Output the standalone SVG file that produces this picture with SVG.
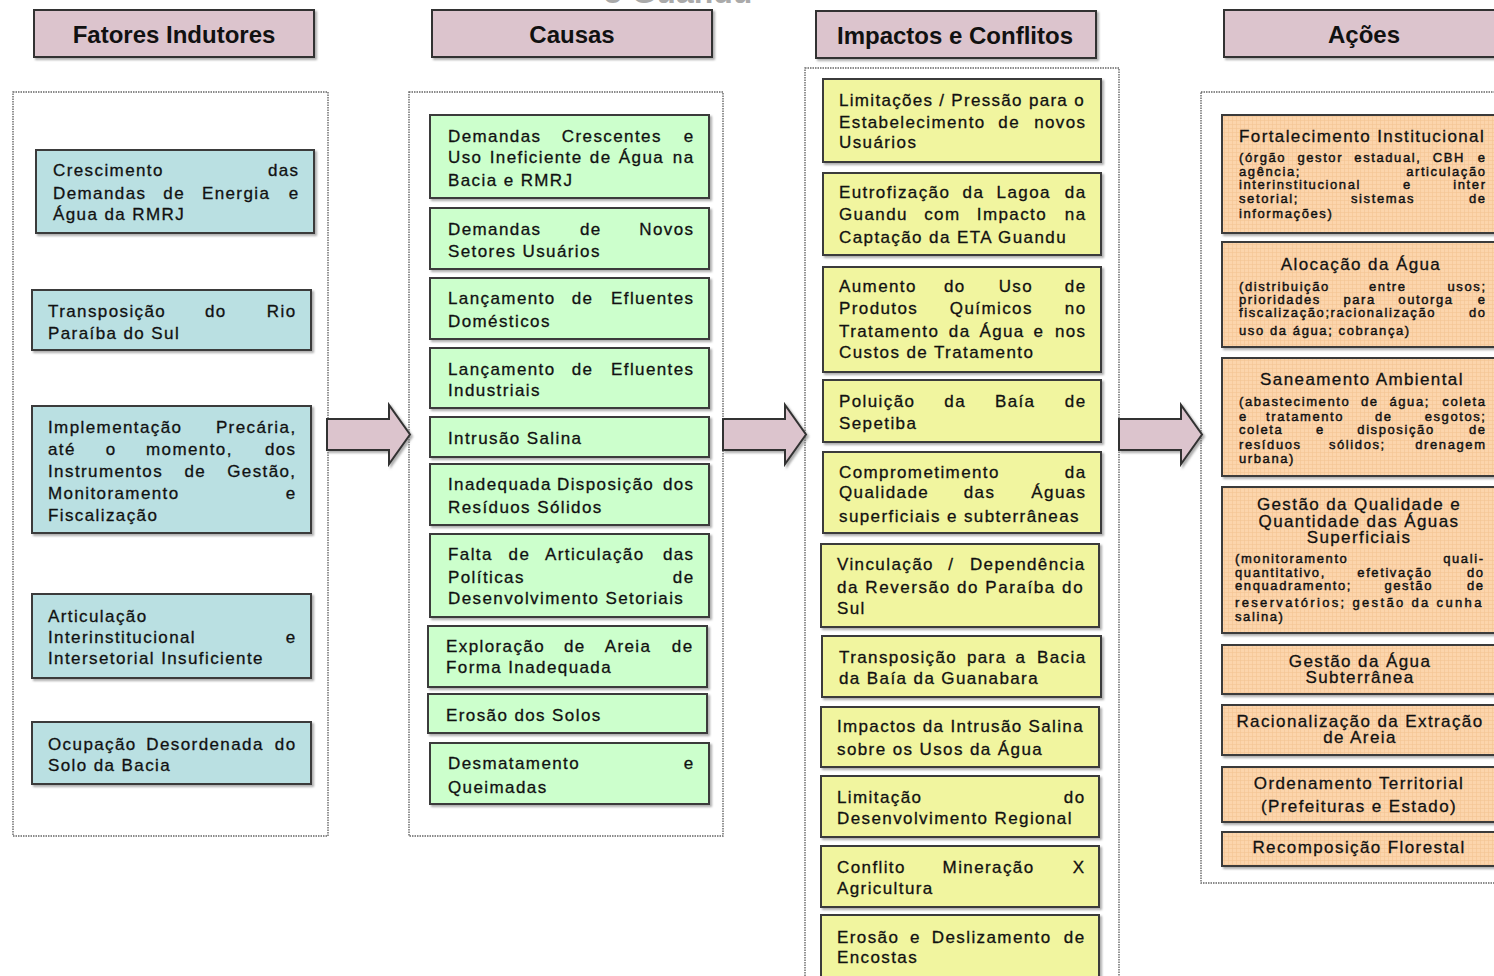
<svg xmlns="http://www.w3.org/2000/svg" width="1494" height="976" viewBox="0 0 1494 976">
<defs>
<filter id="sh" x="-5%" y="-5%" width="115%" height="125%">
<feDropShadow dx="2" dy="2" stdDeviation="0.8" flood-color="#777" flood-opacity="0.6"/>
</filter>
<pattern id="grid" width="4" height="4" patternUnits="userSpaceOnUse">
<rect width="4" height="4" fill="#fcd5ac"/>
<path d="M0 0.5H4M0.5 0V4" stroke="#f3c594" stroke-width="0.6"/>
</pattern>
<style>
.hd{fill:#dcc4cd;stroke:#333;stroke-width:2;filter:url(#sh)}
.bx{stroke:#3a3a3a;stroke-width:2;filter:url(#sh)}
.bl{fill:#bae0e2}
.gr{fill:#ccffcc}
.ye{fill:#f1f59f}
.or{fill:url(#grid)}
.ct{fill:none;stroke:#666;stroke-width:1.4;stroke-dasharray:1.5 1}
.ar{fill:#dcc4cd;stroke:#333;stroke-width:2;stroke-linejoin:miter;filter:url(#sh)}
text.t{font-family:"Liberation Sans",Arial,sans-serif;font-size:17px;letter-spacing:1.4px;fill:#111;stroke:#111;stroke-width:0.3}
text.s{font-size:13px;letter-spacing:1.6px;stroke-width:0.45}
text.e{text-anchor:end}
text.m{text-anchor:middle}
text.h{font-family:"Liberation Sans",Arial,sans-serif;font-size:24px;font-weight:bold;text-anchor:middle;fill:#111}
</style>
</defs>
<rect width="1494" height="976" fill="#fff"/>
<text x="603" y="3" font-family="Liberation Sans, Arial, sans-serif" font-size="32" font-weight="bold" fill="#aaa">o Guandu</text>

<g id="headers">
<g id="h-fatores"><rect class="hd" x="34" y="10" width="280" height="47"/><text class="h" x="174" y="43">Fatores Indutores</text></g>
<g id="h-causas"><rect class="hd" x="432" y="10" width="280" height="47"/><text class="h" x="572" y="43">Causas</text></g>
<g id="h-impactos"><rect class="hd" x="816" y="11" width="280" height="47"/><text class="h" x="955" y="44">Impactos e Conflitos</text></g>
<g id="h-acoes"><rect class="hd" x="1224" y="10" width="290" height="47"/><text class="h" x="1364" y="43">Ações</text></g>
</g>

<g id="containers">
<rect class="ct" x="13" y="92" width="315" height="744"/>
<rect class="ct" x="409" y="92" width="314" height="744"/>
<rect class="ct" x="805" y="68" width="314" height="930"/>
<rect class="ct" x="1201" y="92" width="320" height="791"/>
</g>

<g id="connectors">
<polygon class="ar" points="327,419 389,419 389,405 410,434.5 389,464 389,450 327,450"/>
<polygon class="ar" points="723,419 785,419 785,405 806,434.5 785,464 785,450 723,450"/>
<polygon class="ar" points="1119,419 1181,419 1181,405 1202,434.5 1181,464 1181,450 1119,450"/>
</g>

<!-- Column 1 -->
<g id="f1"><rect class="bx bl" x="36" y="150" width="278" height="83"/>
<text class="t" x="53" y="176">Crescimento</text><text class="t e" x="299.5" y="176">das</text>
<text class="t" x="53" y="199">Demandas</text><text class="t" x="163.3" y="199">de</text><text class="t" x="201.9" y="199">Energia</text><text class="t e" x="299.5" y="199">e</text>
<text class="t" x="53" y="220">Água da RMRJ</text></g>

<g id="f2"><rect class="bx bl" x="32" y="290" width="279" height="60"/>
<text class="t" x="48" y="317">Transposição</text><text class="t" x="205" y="317">do</text><text class="t e" x="296.5" y="317">Rio</text>
<text class="t" x="48" y="339">Paraíba do Sul</text></g>

<g id="f3"><rect class="bx bl" x="32" y="406" width="279" height="127"/>
<text class="t" x="48" y="433">Implementação</text><text class="t e" x="296.5" y="433">Precária,</text>
<text class="t" x="48" y="455">até</text><text class="t" x="105.8" y="455">o</text><text class="t" x="146" y="455">momento,</text><text class="t e" x="296.5" y="455">dos</text>
<text class="t" x="48" y="477">Instrumentos</text><text class="t" x="184.5" y="477">de</text><text class="t e" x="296.5" y="477">Gestão,</text>
<text class="t" x="48" y="499">Monitoramento</text><text class="t e" x="296.5" y="499">e</text>
<text class="t" x="48" y="521">Fiscalização</text></g>

<g id="f4"><rect class="bx bl" x="32" y="594" width="279" height="84"/>
<text class="t" x="48" y="622">Articulação</text>
<text class="t" x="48" y="643">Interinstitucional</text><text class="t e" x="296.5" y="643">e</text>
<text class="t" x="48" y="664">Intersetorial Insuficiente</text></g>

<g id="f5"><rect class="bx bl" x="32" y="722" width="279" height="62"/>
<text class="t" x="48" y="750">Ocupação</text><text class="t" x="146.3" y="750">Desordenada</text><text class="t e" x="296.5" y="750">do</text>
<text class="t" x="48" y="771">Solo da Bacia</text></g>

<!-- Column 2 -->
<g id="c1"><rect class="bx gr" x="430" y="115" width="279" height="83"/>
<text class="t" x="448" y="142">Demandas</text><text class="t" x="561.8" y="142">Crescentes</text><text class="t e" x="694.5" y="142">e</text>
<text class="t" x="448" y="163">Uso</text><text class="t" x="489.7" y="163">Ineficiente</text><text class="t" x="589.8" y="163">de</text><text class="t" x="618.8" y="163">Água</text><text class="t e" x="694.5" y="163">na</text>
<text class="t" x="448" y="186">Bacia e RMRJ</text></g>

<g id="c2"><rect class="bx gr" x="430" y="208" width="279" height="61"/>
<text class="t" x="448" y="235">Demandas</text><text class="t" x="580" y="235">de</text><text class="t e" x="694.5" y="235">Novos</text>
<text class="t" x="448" y="257">Setores Usuários</text></g>

<g id="c3"><rect class="bx gr" x="430" y="278" width="279" height="61"/>
<text class="t" x="448" y="304">Lançamento</text><text class="t" x="571.7" y="304">de</text><text class="t e" x="694.5" y="304">Efluentes</text>
<text class="t" x="448" y="327">Domésticos</text></g>

<g id="c4"><rect class="bx gr" x="430" y="348" width="279" height="60"/>
<text class="t" x="448" y="375">Lançamento</text><text class="t" x="571.7" y="375">de</text><text class="t e" x="694.5" y="375">Efluentes</text>
<text class="t" x="448" y="396">Industriais</text></g>

<g id="c5"><rect class="bx gr" x="430" y="417" width="279" height="40"/>
<text class="t" x="448" y="444">Intrusão Salina</text></g>

<g id="c6"><rect class="bx gr" x="430" y="464" width="279" height="61"/>
<text class="t" x="448" y="490">Inadequada</text><text class="t" x="557" y="490">Disposição</text><text class="t e" x="694.5" y="490">dos</text>
<text class="t" x="448" y="513">Resíduos Sólidos</text></g>

<g id="c7"><rect class="bx gr" x="430" y="534" width="279" height="83"/>
<text class="t" x="448" y="560">Falta</text><text class="t" x="508.6" y="560">de</text><text class="t" x="545" y="560">Articulação</text><text class="t e" x="694.5" y="560">das</text>
<text class="t" x="448" y="583">Políticas</text><text class="t e" x="694.5" y="583">de</text>
<text class="t" x="448" y="604">Desenvolvimento Setoriais</text></g>

<g id="c8"><rect class="bx gr" x="428" y="626" width="279" height="61"/>
<text class="t" x="446" y="652">Exploração</text><text class="t" x="564" y="652">de</text><text class="t" x="604.7" y="652">Areia</text><text class="t e" x="693.5" y="652">de</text>
<text class="t" x="446" y="673">Forma Inadequada</text></g>

<g id="c9"><rect class="bx gr" x="428" y="694" width="279" height="39"/>
<text class="t" x="446" y="721">Erosão dos Solos</text></g>

<g id="c10"><rect class="bx gr" x="430" y="743" width="279" height="61"/>
<text class="t" x="448" y="769">Desmatamento</text><text class="t e" x="694.5" y="769">e</text>
<text class="t" x="448" y="793">Queimadas</text></g>

<!-- Column 3 -->
<g id="i1"><rect class="bx ye" x="823" y="79" width="278" height="83"/>
<text class="t" x="839" y="106" textLength="246" lengthAdjust="spacing">Limitações / Pressão para o</text>
<text class="t" x="839" y="128">Estabelecimento</text><text class="t" x="998.3" y="128">de</text><text class="t e" x="1086.5" y="128">novos</text>
<text class="t" x="839" y="148">Usuários</text></g>

<g id="i2"><rect class="bx ye" x="823" y="173" width="278" height="82"/>
<text class="t" x="839" y="198">Eutrofização</text><text class="t" x="962.6" y="198">da</text><text class="t" x="996.6" y="198">Lagoa</text><text class="t e" x="1086.5" y="198">da</text>
<text class="t" x="839" y="220">Guandu</text><text class="t" x="924.2" y="220">com</text><text class="t" x="976.8" y="220">Impacto</text><text class="t e" x="1086.5" y="220">na</text>
<text class="t" x="839" y="243">Captação da ETA Guandu</text></g>

<g id="i3"><rect class="bx ye" x="823" y="267" width="278" height="105"/>
<text class="t" x="839" y="292">Aumento</text><text class="t" x="944" y="292">do</text><text class="t" x="998.7" y="292">Uso</text><text class="t e" x="1086.5" y="292">de</text>
<text class="t" x="839" y="314">Produtos</text><text class="t" x="949.8" y="314">Químicos</text><text class="t e" x="1086.5" y="314">no</text>
<text class="t" x="839" y="337">Tratamento</text><text class="t" x="948.8" y="337">da</text><text class="t" x="979.4" y="337">Água</text><text class="t" x="1033.6" y="337">e</text><text class="t e" x="1086.5" y="337">nos</text>
<text class="t" x="839" y="358">Custos de Tratamento</text></g>

<g id="i4"><rect class="bx ye" x="823" y="380" width="278" height="62"/>
<text class="t" x="839" y="407">Poluição</text><text class="t" x="944.3" y="407">da</text><text class="t" x="994.9" y="407">Baía</text><text class="t e" x="1086.5" y="407">de</text>
<text class="t" x="839" y="429">Sepetiba</text></g>

<g id="i5"><rect class="bx ye" x="823" y="452" width="278" height="81"/>
<text class="t" x="839" y="478">Comprometimento</text><text class="t e" x="1086.5" y="478">da</text>
<text class="t" x="839" y="498">Qualidade</text><text class="t" x="963.7" y="498">das</text><text class="t e" x="1086.5" y="498">Águas</text>
<text class="t" x="839" y="522">superficiais e subterrâneas</text></g>

<g id="i6"><rect class="bx ye" x="821" y="544" width="278" height="83"/>
<text class="t" x="837" y="570">Vinculação</text><text class="t" x="948.2" y="570">/</text><text class="t e" x="1085.5" y="570">Dependência</text>
<text class="t" x="837" y="593" textLength="247" lengthAdjust="spacing">da Reversão do Paraíba do</text>
<text class="t" x="837" y="614">Sul</text></g>

<g id="i7"><rect class="bx ye" x="822" y="636" width="279" height="61"/>
<text class="t" x="839" y="663">Transposição</text><text class="t" x="966.9" y="663">para</text><text class="t" x="1015.6" y="663">a</text><text class="t e" x="1086.5" y="663">Bacia</text>
<text class="t" x="839" y="684">da Baía da Guanabara</text></g>

<g id="i8"><rect class="bx ye" x="821" y="707" width="278" height="60"/>
<text class="t" x="837" y="732" textLength="247" lengthAdjust="spacing">Impactos da Intrusão Salina</text>
<text class="t" x="837" y="755">sobre os Usos da Água</text></g>

<g id="i9"><rect class="bx ye" x="821" y="776" width="278" height="61"/>
<text class="t" x="837" y="803">Limitação</text><text class="t e" x="1085.5" y="803">do</text>
<text class="t" x="837" y="824">Desenvolvimento Regional</text></g>

<g id="i10"><rect class="bx ye" x="821" y="846" width="278" height="61"/>
<text class="t" x="837" y="873">Conflito</text><text class="t" x="942.6" y="873">Mineração</text><text class="t e" x="1085.5" y="873">X</text>
<text class="t" x="837" y="894">Agricultura</text></g>

<g id="i11"><rect class="bx ye" x="821" y="915" width="278" height="70"/>
<text class="t" x="837" y="943">Erosão</text><text class="t" x="910.1" y="943">e</text><text class="t" x="931.8" y="943">Deslizamento</text><text class="t e" x="1085.5" y="943">de</text>
<text class="t" x="837" y="963">Encostas</text></g>

<!-- Column 4 -->
<g id="a1"><rect class="bx or" x="1222" y="115" width="290" height="118"/>
<text class="t" x="1239" y="142">Fortalecimento Institucional</text>
<text class="t s" x="1239" y="161.5">(órgão</text><text class="t s" x="1297.4" y="161.5">gestor</text><text class="t s" x="1354.3" y="161.5">estadual,</text><text class="t s" x="1432.7" y="161.5">CBH</text><text class="t s e" x="1486.6" y="161.5">e</text>
<text class="t s" x="1239" y="175.5">agência;</text><text class="t s e" x="1486.6" y="175.5">articulação</text>
<text class="t s" x="1239" y="188.5">interinstitucional</text><text class="t s" x="1403" y="188.5">e</text><text class="t s e" x="1486.6" y="188.5">inter</text>
<text class="t s" x="1239" y="203">setorial;</text><text class="t s" x="1351" y="203">sistemas</text><text class="t s e" x="1486.6" y="203">de</text>
<text class="t s" x="1239" y="218">informações)</text></g>

<g id="a2"><rect class="bx or" x="1222" y="242" width="290" height="105"/>
<text class="t m" x="1361" y="270">Alocação da Água</text>
<text class="t s" x="1239" y="291">(distribuição</text><text class="t s" x="1369" y="291">entre</text><text class="t s e" x="1486.6" y="291">usos;</text>
<text class="t s" x="1239" y="304">prioridades</text><text class="t s" x="1343.4" y="304">para</text><text class="t s" x="1398.3" y="304">outorga</text><text class="t s e" x="1486.6" y="304">e</text>
<text class="t s" x="1239" y="317">fiscalização;racionalização</text><text class="t s e" x="1486.6" y="317">do</text>
<text class="t s" x="1239" y="335">uso da água; cobrança)</text></g>

<g id="a3"><rect class="bx or" x="1222" y="358" width="290" height="118"/>
<text class="t m" x="1362" y="385">Saneamento Ambiental</text>
<text class="t s" x="1239" y="406">(abastecimento</text><text class="t s" x="1361" y="406">de</text><text class="t s" x="1389.4" y="406">água;</text><text class="t s e" x="1486.6" y="406">coleta</text>
<text class="t s" x="1239" y="421">e</text><text class="t s" x="1266" y="421">tratamento</text><text class="t s" x="1375" y="421">de</text><text class="t s e" x="1486.6" y="421">esgotos;</text>
<text class="t s" x="1239" y="434">coleta</text><text class="t s" x="1315.9" y="434">e</text><text class="t s" x="1357.3" y="434">disposição</text><text class="t s e" x="1486.6" y="434">de</text>
<text class="t s" x="1239" y="449">resíduos</text><text class="t s" x="1328.9" y="449">sólidos;</text><text class="t s e" x="1486.6" y="449">drenagem</text>
<text class="t s" x="1239" y="463">urbana)</text></g>

<g id="a4"><rect class="bx or" x="1222" y="487" width="290" height="146"/>
<text class="t m" x="1359" y="510">Gestão da Qualidade e</text>
<text class="t m" x="1359" y="527">Quantidade das Águas</text>
<text class="t m" x="1359" y="543">Superficiais</text>
<text class="t s" x="1235" y="563">(monitoramento</text><text class="t s e" x="1484.6" y="563">quali-</text>
<text class="t s" x="1235" y="577">quantitativo,</text><text class="t s" x="1357.3" y="577">efetivação</text><text class="t s e" x="1484.6" y="577">do</text>
<text class="t s" x="1235" y="590">enquadramento;</text><text class="t s" x="1384.4" y="590">gestão</text><text class="t s e" x="1484.6" y="590">de</text>
<text class="t s" x="1235" y="607" textLength="248" lengthAdjust="spacing">reservatórios; gestão da cunha</text>
<text class="t s" x="1235" y="621">salina)</text></g>

<g id="a5"><rect class="bx or" x="1222" y="645" width="290" height="49"/>
<text class="t m" x="1360" y="667">Gestão da Água</text>
<text class="t m" x="1360" y="683">Subterrânea</text></g>

<g id="a6"><rect class="bx or" x="1222" y="705" width="290" height="50"/>
<text class="t m" x="1360" y="727">Racionalização da Extração</text>
<text class="t m" x="1360" y="743">de Areia</text></g>

<g id="a7"><rect class="bx or" x="1222" y="767" width="290" height="55"/>
<text class="t m" x="1359" y="789">Ordenamento Territorial</text>
<text class="t m" x="1359" y="812">(Prefeituras e Estado)</text></g>

<g id="a8"><rect class="bx or" x="1222" y="832" width="290" height="34"/>
<text class="t m" x="1359" y="853">Recomposição Florestal</text></g>
</svg>
